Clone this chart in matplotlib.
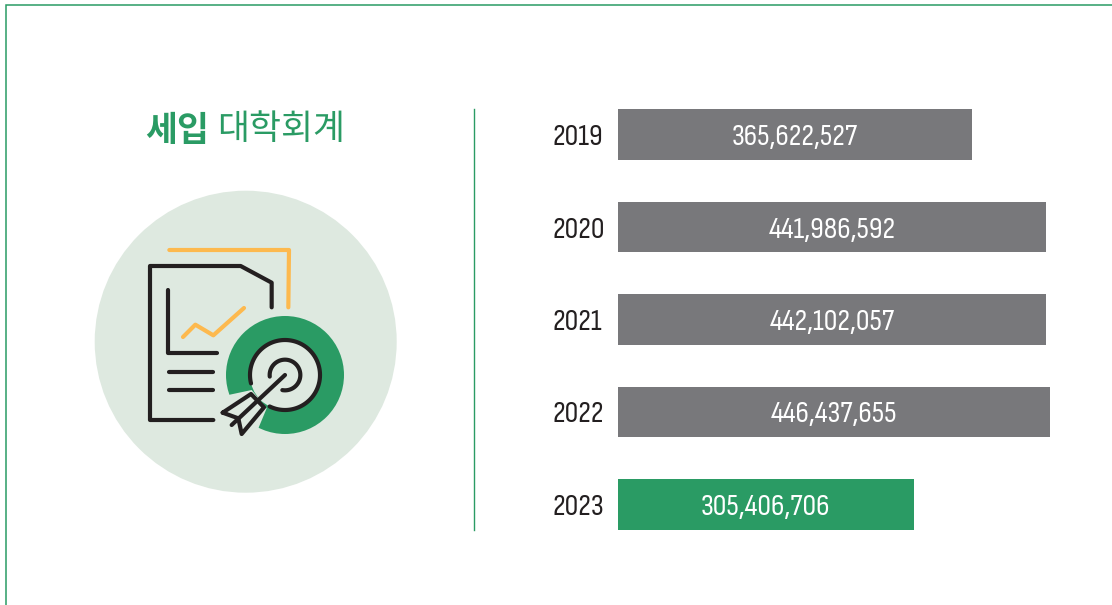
import numpy as np
import matplotlib
matplotlib.use("Agg")
import matplotlib.pyplot as plt
from matplotlib.patches import Circle, Polygon

years = ["2019", "2020", "2021", "2022", "2023"]
values = [365622527, 441986592, 442102057, 446437655, 305406706]
title_bold = "세입"
title_regular = "대학회계"

GREEN = "#2A9B64"
GRAY = "#78787B"
PALE = "#DEE9E0"
ORANGE = "#FDB94E"
INK = "#231F20"
W, H = 1112, 605
KR = ["Noto Sans CJK KR", "DejaVu Sans"]
NARROW = ["Sofia Sans Condensed", "Roboto", "DejaVu Sans"]

fig = plt.figure(figsize=(W / 100, H / 100), dpi=100, facecolor="white")

# Decorative layer in pixel coordinates
bg = fig.add_axes([0, 0, 1, 1])
bg.set_xlim(0, W)
bg.set_ylim(H, 0)
bg.axis("off")


def z(points):
    pts = np.asarray(points, dtype=float)
    return 90 + pts[:, 0] / 3, 90 + pts[:, 1] / 3


def stroke(points, color=INK, lw=3.0):
    x, y = z(points)
    bg.plot(x, y, color=color, lw=lw, solid_capstyle="round", solid_joinstyle="round", zorder=5)


def arc(cx, cy, r, start, end, color=INK, lw=3.0):
    t = np.radians(np.linspace(start, end, 120))
    stroke(np.column_stack([cx + r * np.cos(t), cy + r * np.sin(t)]), color, lw)


bg.plot([5.5, 5.5, W], [H, 4.5, 4.5], color=GREEN, lw=1.1, solid_joinstyle="miter")
bg.plot([474, 474], [109, 530], color=GREEN, lw=1.0)

bg.text(145, 130, title_bold, family=KR, fontweight="black", fontsize=25, color=GREEN, ha="left", va="center")
bg.text(217, 130, title_regular, family=KR, fontweight="medium", fontsize=25, color=GREEN, ha="left", va="center")

bg.add_patch(Circle((245.7, 341.7), 151, color=PALE, lw=0, zorder=1))
bg.add_patch(Circle((285, 375), 59, color=GREEN, lw=0, zorder=2))
bg.add_patch(Circle((285, 375), 35, color=PALE, lw=0, zorder=3))
gx, gy = z([(415, 915), (485, 900), (530, 955), (505, 1015), (455, 1045), (390, 970)])
bg.add_patch(Polygon(np.column_stack([gx, gy]), color=PALE, lw=0, zorder=3))

stroke([(238, 480), (597, 480), (595, 652)], ORANGE)
stroke([(279, 741), (316, 704), (370, 736), (462, 654)], ORANGE)
stroke([(545, 652), (545, 578), (452, 528), (180, 528), (180, 990), (370, 990)])
stroke([(235, 600), (235, 790), (382, 790)])
stroke([(238, 845), (368, 845)])
stroke([(238, 899), (368, 899)])
arc(585, 855, 105, 166, 476)
arc(585, 855, 46, 174, 460)
stroke([(585, 855), (425, 1005)])
stroke([(398, 968), (483, 912), (522, 952), (455, 1032), (445, 985), (398, 968)])

# Bars
ax = fig.add_axes([618 / W, 1 - 550.75 / H, 432 / W, 462.5 / H])
ax.patch.set_alpha(0)
ax.set_xlim(0, max(values))
ax.set_ylim(4.5, -0.5)
colors = [GRAY] * 4 + [GREEN]
ax.barh(range(len(years)), values, height=0.55, color=colors, linewidth=0)
for i, v in enumerate(values):
    ax.text(v / 2, i, f"{v:,}", family=NARROW, fontsize=22, color="white", ha="center", va="center_baseline")
ax.set_yticks(range(len(years)), years, family=NARROW, fontsize=22, color=INK, ha="left", va="center_baseline")
ax.tick_params(axis="y", length=0, pad=47.5)
ax.set_xticks([])
for s in ax.spines.values():
    s.set_visible(False)

fig.savefig("out.png", dpi=100)
